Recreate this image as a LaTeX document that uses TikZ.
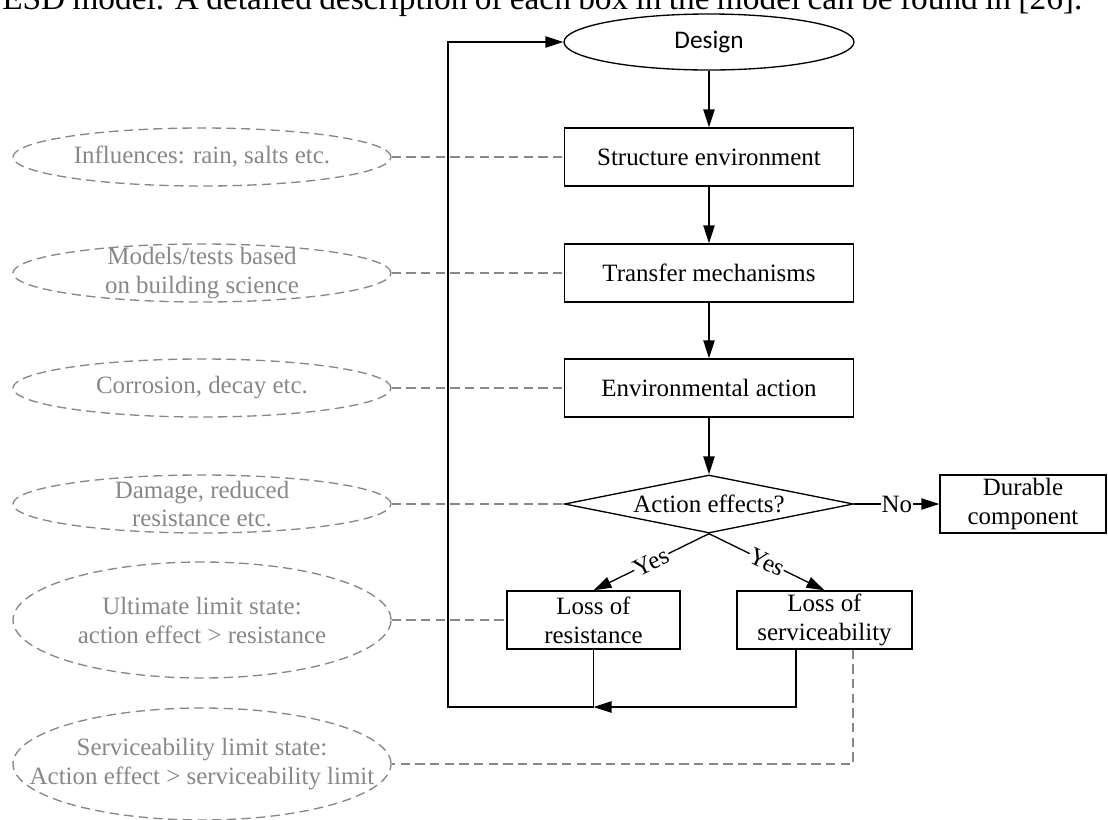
\documentclass[tikz,border=0pt]{standalone}
\usepackage{fontspec}
\setmainfont{Liberation Serif}
\newfontfamily\designfont{Carlito}
\usetikzlibrary{arrows.meta,shapes.geometric}
\definecolor{notegray}{RGB}{135,135,135}
\begin{document}
\begin{tikzpicture}[x=0.75pt,y=-0.75pt,
  every node/.style={font=\fontsize{18.7}{21.7}\selectfont},
  stepbox/.style={draw, line width=1pt, inner sep=0pt, align=center, minimum height=43.5pt},
  decision/.style={draw, line width=1pt, diamond, shape aspect=5, inner sep=0pt,
    minimum width=216.75pt, minimum height=43.5pt},
  startnode/.style={draw, line width=1pt, ellipse, inner sep=0pt,
    minimum width=217.5pt, minimum height=42pt, font=\designfont\fontsize{19}{22}\selectfont},
  note/.style={draw=notegray, line width=1pt, dash pattern=on 7pt off 4pt,
    ellipse, inner sep=0pt, minimum width=283.5pt},
  notetext/.style={text=notegray, align=center},
  flow/.style={line width=1pt, -{Triangle[length=13.5pt,width=8.5pt]}},
  hint/.style={draw=notegray, line width=1pt, dash pattern=on 7pt off 4pt},
  tag/.style={fill=white, inner sep=0.5pt},
]
\useasboundingbox (0,0) rectangle (1108,819);

% running text line above the figure
\node[anchor=base west, inner sep=0pt, font=\fontsize{25}{30}\selectfont] (lead) at (2,9)
  {\makebox[810pt][s]{ESD model. A detailed description of each box in the model can be found in [26].}};

% main process chain
\node[startnode] (design) at (709,42) {Design};
\node[stepbox, minimum width=216.75pt] (env) at (709,157) {Structure environment};
\node[stepbox, minimum width=216.75pt] (transfer) at (709,273) {Transfer mechanisms};
\node[stepbox, minimum width=216.75pt] (action) at (709,388) {Environmental action};
\node[decision] (effects) at (709,504) {Action effects?};
\node[stepbox, minimum width=124.5pt] (durable) at (1023,504) {Durable\\component};
\node[stepbox, minimum width=129.75pt] (resist) at (593.5,620) {Loss of\\resistance};
\node[stepbox, minimum width=131.25pt] (service) at (824.5,620) {Loss of\\serviceability};

% explanatory notes
\node[note, minimum height=43.5pt] (e1) at (202,157) {};
\node[notetext] (e1t) at (e1) {Influences: rain, salts etc.};
\node[note, minimum height=43.5pt] (e2) at (202,273) {};
\node[notetext] (e2t) at (e2) {Models/tests based\\on building science};
\node[note, minimum height=43.5pt] (e3) at (202,388) {};
\node[notetext] (e3t) at (e3) {Corrosion, decay etc.};
\node[note, minimum height=43.5pt] (e4) at (202,504) {};
\node[notetext] (e4t) at (e4) {Damage, reduced\\resistance etc.};
\node[note, minimum height=87pt] (e5) at (202,620) {};
\node[notetext] (e5t) at (e5) {Ultimate limit state:\\action effect > resistance};
\node[note, minimum height=84pt] (e6) at (202,764) {};
\node[notetext] (e6t) at (e6) {Serviceability limit state:\\Action effect > serviceability limit};

% dashed links from the notes
\draw[hint] (e1.east) -- (env.west);
\draw[hint] (e2.east) -- (transfer.west);
\draw[hint] (e3.east) -- (action.west);
\draw[hint] (e4.east) -- (effects.west);
\draw[hint] (e5.east) -- (resist.west);
\draw[hint] ([xshift=21.4pt]service.south) |- (e6.east);

% flow
\draw[flow] (design) -- (env);
\draw[flow] (env) -- (transfer);
\draw[flow] (transfer) -- (action);
\draw[flow] (action) -- (effects);
\draw[flow] (effects) -- node[tag] {No} (durable);
\draw[flow] (effects.south) -- node[tag, sloped] {Yes} (resist.north);
\draw[flow] (effects.south) -- node[tag, sloped] {Yes} (service.north);

% feedback loop to design
\coordinate (merge) at (593.5,707);
\coordinate (turn) at (448,707);
\draw[flow] ([xshift=-21.4pt]service.south) |- (merge);
\draw[flow] (resist.south) |- (turn) |- (design.west);
\end{tikzpicture}
\end{document}
